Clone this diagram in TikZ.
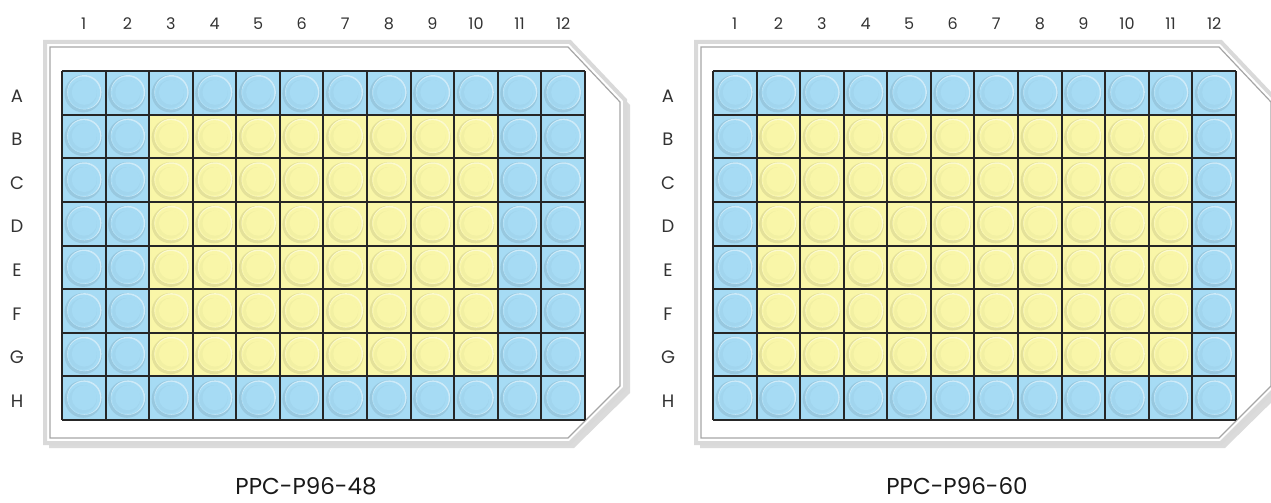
\documentclass[tikz,border=0pt]{standalone}
\usepackage{fontspec}
\setmainfont{Poppins}
\definecolor{wblue}{RGB}{166,219,244}
\definecolor{wyel}{RGB}{249,246,168}
\tikzset{
  plateshadow/.style={fill=gray!28},
  plateframe/.style={fill=white, draw=gray!30, line width=4pt, line join=miter},
  plateinner/.style={draw=gray!70, line width=1.2pt, line join=miter},
  gridline/.style={draw=black!85, line width=2pt},
  collabel/.style={font=\fontsize{16}{16}\selectfont, text=black!80},
  rowlabel/.style={font=\fontsize{18}{18}\selectfont, text=black!80},
  platecaption/.style={font=\fontsize{23}{23}\selectfont, anchor=base, inner sep=0pt, text=black!90},
}
\begin{document}
\begin{tikzpicture}[x=1pt,y=-1pt]
\useasboundingbox (0,0) rectangle (1271,503);
\foreach \ox/\ca/\cb/\plname in {0/3/10/PPC-P96-48, 651/2/11/PPC-P96-60} {
  \begin{scope}[xshift=\ox pt]
    \fill[plateshadow] (49,47) -- (574,47) -- (630,105) -- (630,393) -- (574,448) -- (49,448) -- cycle;
    \draw[plateframe] (45,42) -- (570,42) -- (625,100) -- (625,388) -- (570,443) -- (45,443) -- cycle;
    \draw[plateinner] (50,47) -- (568,47) -- (620,102) -- (620,386) -- (568,438) -- (50,438) -- cycle;
    \foreach \r in {1,...,8} {
      \foreach \c in {1,...,12} {
        \pgfmathtruncatemacro\isy{((\r>1)&&(\r<8)&&(\c>=\ca)&&(\c<=\cb))?1:0}
        \ifnum\isy=1 \colorlet{wc}{wyel}\else\colorlet{wc}{wblue}\fi
        \pgfmathsetmacro\xa{62+(\c-1)*43.58}
        \pgfmathsetmacro\ya{71+(\r-1)*43.625}
        \pgfmathsetmacro\xc{\xa+21.79}
        \pgfmathsetmacro\yc{\ya+21.81}
        \fill[wc] (\xa,\ya) rectangle ++(43.58,43.625);
        \fill[wc!70!black, opacity=0.28] (\xc-0.5,\yc+0.8) circle (18.8);
        \fill[wc!55!white] (\xc+0.6,\yc-0.6) circle (17.2);
        \fill[wc] (\xc,\yc) circle (16.3);
        \fill[wc!80!black, opacity=0.12] (\xc-1,\yc+1) circle (14);
        \fill[wc] (\xc+0.5,\yc-0.5) circle (12.5);
      }
    }
    \foreach \i in {0,...,12} {
      \pgfmathsetmacro\gx{round(62+\i*43.58)}
      \draw[gridline] (\gx,71) -- (\gx,420);
    }
    \foreach \j in {0,...,8} {
      \pgfmathsetmacro\gy{round(71+\j*43.625)}
      \draw[gridline] (62,\gy) -- (585,\gy);
    }
    \foreach \c in {1,...,12} {
      \node[collabel] (p\ox c\c) at ({62+(\c-0.5)*43.58},24) {\c};
    }
    \foreach \r/\L in {1/A,2/B,3/C,4/D,5/E,6/F,7/G,8/H} {
      \node[rowlabel] (p\ox r\L) at (17,{71+(\r-0.5)*43.625+3}) {\L};
    }
    \node[platecaption] (p\ox cap) at (306,494) {\plname};
  \end{scope}
}
\end{tikzpicture}
\end{document}
